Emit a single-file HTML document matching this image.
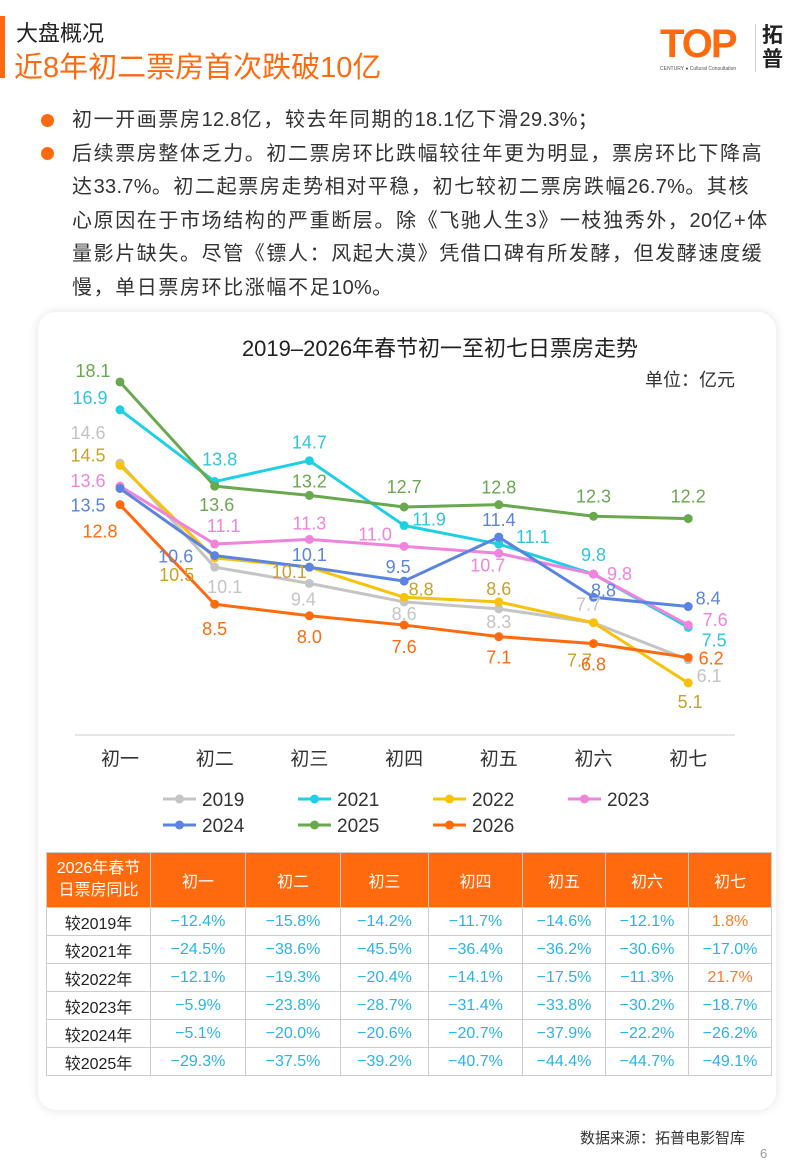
<!DOCTYPE html>
<html><head><meta charset="utf-8">
<style>
*{margin:0;padding:0;box-sizing:border-box}
body{width:806px;height:1164px;background:#fff;font-family:"Liberation Sans","Noto Sans CJK SC",sans-serif;position:relative;overflow:hidden;color:#333}
.abs{position:absolute}
#bar{left:0;top:16px;width:5px;height:62px;background:#ff6a0f}
#sec{left:16px;top:16px;font-size:22px;color:#222}
#ttl{left:14px;top:44px;font-size:29px;color:#ff6a0f}
.para{left:72px;font-size:20px;letter-spacing:1.6px;line-height:33.5px;color:#333;white-space:nowrap}
.para .n{letter-spacing:0.3px}
.dot{width:13px;height:13px;border-radius:50%;background:#ff6a0f;left:41px}
#card{left:38px;top:312px;width:738px;height:798px;background:#fff;border-radius:18px;box-shadow:0 0 10px rgba(0,0,0,0.12)}
table{position:absolute;left:46px;top:852px;border-collapse:collapse;font-size:16px}
td,th{border:1px solid #ccc;text-align:center;height:28px;padding:0}
th{background:#ff6a0f;color:#fff;font-weight:normal;height:55px;font-size:16px}
td{color:#2bb3e8}
td.r{color:#222}
td.o{color:#ff7a2a}
</style></head><body>
<div class="abs" id="bar"></div>
<div class="abs" id="sec">大盘概况</div>
<div class="abs" id="ttl">近8年初二票房首次跌破10亿</div>
<div class="abs" style="left:660px;top:24px;width:130px;height:50px">
  <div class="abs" style="left:0;top:0;font-size:40px;font-weight:bold;color:#ff6a0f;letter-spacing:-2px;line-height:40px">TOP</div>
  <div class="abs" style="left:0;top:42px;font-size:5px;color:#555;white-space:nowrap">CENTURY ● Cultural Consultation</div>
  <div class="abs" style="left:95px;top:0;width:1px;height:48px;background:#ccc"></div>
  <div class="abs" style="left:102px;top:0;font-size:21px;line-height:24px;color:#222;font-weight:bold">拓<br>普</div>
</div>
<div class="abs dot" style="top:114px"></div>
<div class="abs para" style="top:104px">初一开画票房<span class="n">12.8</span>亿，较去年同期的<span class="n">18.1</span>亿下滑<span class="n">29.3%</span>；</div>
<div class="abs dot" style="top:147px"></div>
<div class="abs para" style="top:137.5px">后续票房整体乏力。初二票房环比跌幅较往年更为明显，票房环比下降高<br>达<span class="n">33.7%</span>。初二起票房走势相对平稳，初七较初二票房跌幅<span class="n">26.7%</span>。其核<br>心原因在于市场结构的严重断层。除《飞驰人生3》一枝独秀外，<span class="n">20</span>亿+体<br>量影片缺失。尽管《镖人：风起大漠》凭借口碑有所发酵，但发酵速度缓<br>慢，单日票房环比涨幅不足<span class="n">10%</span>。</div>
<div class="abs" id="card"></div>
<svg class="abs" style="left:0;top:0" width="806" height="1164" id="chart">
<text x="440" y="356" font-size="22" text-anchor="middle" fill="#222">2019–2026年春节初一至初七日票房走势</text>
<text x="735" y="386" font-size="18" text-anchor="end" fill="#333">单位：亿元</text>
<line x1="75" y1="735" x2="735" y2="735" stroke="#ddd" stroke-width="1.5"/>
<g id="plot"></g>
</svg>
<table>
<tr><th style="width:104px;line-height:22px">2026年春节<br>日票房同比</th><th style="width:95px">初一</th><th style="width:95px">初二</th><th style="width:88px">初三</th><th style="width:94px">初四</th><th style="width:83px">初五</th><th style="width:83px">初六</th><th style="width:83px">初七</th></tr>
<tr><td class="r">较2019年</td><td>−12.4%</td><td>−15.8%</td><td>−14.2%</td><td>−11.7%</td><td>−14.6%</td><td>−12.1%</td><td class="o">1.8%</td></tr>
<tr><td class="r">较2021年</td><td>−24.5%</td><td>−38.6%</td><td>−45.5%</td><td>−36.4%</td><td>−36.2%</td><td>−30.6%</td><td>−17.0%</td></tr>
<tr><td class="r">较2022年</td><td>−12.1%</td><td>−19.3%</td><td>−20.4%</td><td>−14.1%</td><td>−17.5%</td><td>−11.3%</td><td class="o">21.7%</td></tr>
<tr><td class="r">较2023年</td><td>−5.9%</td><td>−23.8%</td><td>−28.7%</td><td>−31.4%</td><td>−33.8%</td><td>−30.2%</td><td>−18.7%</td></tr>
<tr><td class="r">较2024年</td><td>−5.1%</td><td>−20.0%</td><td>−20.6%</td><td>−20.7%</td><td>−37.9%</td><td>−22.2%</td><td>−26.2%</td></tr>
<tr><td class="r">较2025年</td><td>−29.3%</td><td>−37.5%</td><td>−39.2%</td><td>−40.7%</td><td>−44.4%</td><td>−44.7%</td><td>−49.1%</td></tr>
</table>
<div class="abs" style="left:580px;top:1127px;font-size:15px;color:#333">数据来源：拓普电影智库</div>
<div class="abs" style="left:760px;top:1146px;font-size:13px;color:#999">6</div>
<script>
const categories=["初一","初二","初三","初四","初五","初六","初七"];
const seriesNames=["2019","2021","2022","2023","2024","2025","2026"];
const s2019=[14.6,10.1,9.4,8.6,8.3,7.7,6.1];
const s2021=[16.9,13.8,14.7,11.9,11.1,9.8,7.5];
const s2022=[14.5,10.5,10.1,8.8,8.6,7.7,5.1];
const s2023=[13.6,11.1,11.3,11.0,10.7,9.8,7.6];
const s2024=[13.5,10.6,10.1,9.5,11.4,8.8,8.4];
const s2025=[18.1,13.6,13.2,12.7,12.8,12.3,12.2];
const s2026=[12.8,8.5,8.0,7.6,7.1,6.8,6.2];
const allSeries=[s2019,s2021,s2022,s2023,s2024,s2025,s2026];
const lineColors=["#c4c4c4","#1fd0e3","#f8c20a","#ef84dc","#5b84e0","#6aa84f","#ff6a0f"];
const labelColors=["#c4c4c4","#2ec6de","#c9a227","#ef84dc","#5b84e0","#6aa84f","#ff6a0f"];
// label offsets (styling)
const offs=[
 [[-32,-30],[10,20],[-6,16],[0,12],[0,13],[-5,-18],[21,16]],
 [[-30,-12],[5,-22],[0,-18],[25,-6],[34,-7],[0,-19],[26,13]],
 [[-32,-10],[-38,17],[-20,5],[17,-8],[0,-13],[-14,38],[2,19]],
 [[-32,-5],[9,-18],[0,-16],[-29,-12],[-11,12],[26,0],[27,-5]],
 [[-32,17],[-39,1],[0,-12],[-6,-14],[0,-17],[10,-7],[20,-8]],
 [[-27,-11],[2,19],[0,-14],[0,-20],[0,-17],[0,-20],[0,-22]],
 [[-20,27],[0,25],[0,21],[0,22],[0,21],[0,21],[23,1]]];
const xScale=i=>120+i*94.7;
const yScale=v=>801-23.15*v;
const NS="http://www.w3.org/2000/svg";
const plot=document.getElementById('plot');
function mk(tag,attrs){const e=document.createElementNS(NS,tag);for(const k in attrs)e.setAttribute(k,attrs[k]);return e;}
categories.forEach((c,i)=>{
  const t=mk('text',{x:xScale(i),y:765,'font-size':19,'text-anchor':'middle',fill:'#333'});
  t.textContent=c;
  
  
  plot.appendChild(t);
});
allSeries.forEach((s,k)=>{
  const g=mk('g',{});
  
  
  const pts=s.map((v,i)=>xScale(i)+','+yScale(v)).join(' ');
  const pl=mk('polyline',{points:pts,fill:'none',stroke:lineColors[k],'stroke-width':3,'stroke-linejoin':'round'});
  
  
  g.appendChild(pl);
  s.forEach((v,i)=>{
    const c=mk('circle',{cx:xScale(i),cy:yScale(v),r:4.5,fill:lineColors[k]});
    
    
    g.appendChild(c);
  });
  plot.appendChild(g);
});
allSeries.forEach((s,k)=>{
  s.forEach((v,i)=>{
    const t=mk('text',{x:xScale(i)+offs[k][i][0],y:yScale(v)+offs[k][i][1]+6,'font-size':18,'text-anchor':'middle',fill:labelColors[k]});
    t.textContent=v.toFixed(1);
    
    
    plot.appendChild(t);
  });
});
const legPos=[[163,799],[298,799],[433,799],[568,799],[163,825],[298,825],[433,825]];
seriesNames.forEach((n,k)=>{
  const [x,y]=legPos[k];
  const g=mk('g',{});
  
  
  g.appendChild(mk('line',{x1:x,y1:y,x2:x+33,y2:y,stroke:lineColors[k],'stroke-width':3}));
  g.appendChild(mk('circle',{cx:x+16.5,cy:y,r:4.5,fill:lineColors[k]}));
  const t=mk('text',{x:x+39,y:y+7,'font-size':19,fill:'#333'});
  t.textContent=n;
  g.appendChild(t);
  plot.appendChild(g);
});
</script>
</body></html>
